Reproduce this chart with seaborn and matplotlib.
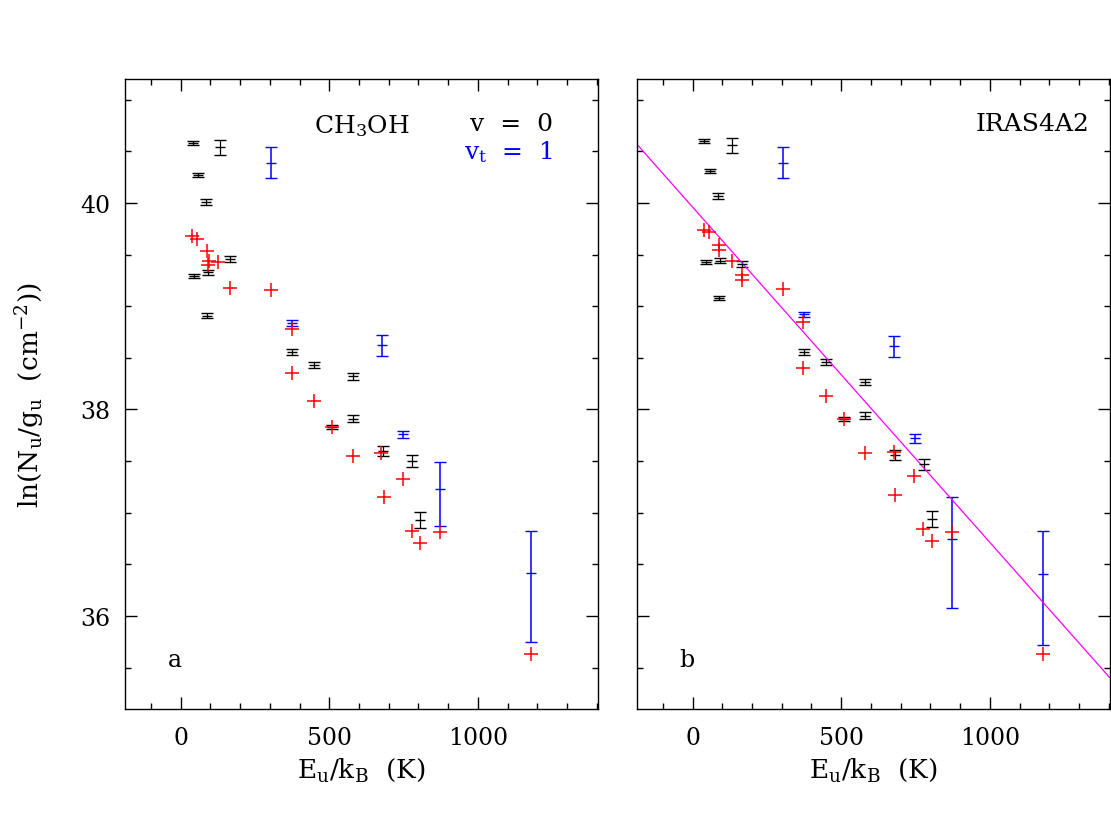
import matplotlib.pyplot as plt
import numpy as np
import pandas as pd
import seaborn as sns
from matplotlib.ticker import MultipleLocator

# v = 0 transitions (black points), upper level energy E_u/k_B in K
eu_v0 = [40, 133, 57, 84, 46, 93, 166, 90, 375, 448, 508, 580, 580, 682, 778, 804]
ln_v0_a = [40.58, 40.54, 40.27, 40.01, 39.29, 39.33, 39.46, 38.91,
           38.56, 38.43, 37.83, 38.32, 37.91, 37.60, 37.50, 36.93]
ln_v0_b = [40.60, 40.56, 40.31, 40.07, 39.43, 39.44, 39.41, 39.08,
           38.56, 38.46, 37.91, 38.27, 37.94, 37.56, 37.47, 36.94]
err_v0 = [0.02, 0.073, 0.02, 0.03, 0.02, 0.025, 0.03, 0.02,
          0.03, 0.03, 0.02, 0.03, 0.035, 0.047, 0.055, 0.076]

# vt = 1 transitions (blue points), asymmetric errors
eu_vt1 = [304, 375, 677, 748, 871, 1178]
ln_vt1_a = [40.39, 38.84, 38.62, 37.76, 37.23, 36.42]
ln_vt1_b = [40.39, 38.92, 38.61, 37.72, 36.75, 36.41]
err_lo_vt1_a = [0.15, 0.03, 0.105, 0.034, 0.36, 0.67]
err_hi_vt1_a = [0.15, 0.03, 0.105, 0.034, 0.26, 0.40]
err_lo_vt1_b = [0.15, 0.025, 0.105, 0.04, 0.67, 0.69]
err_hi_vt1_b = [0.15, 0.025, 0.105, 0.04, 0.40, 0.41]

# model populations (red crosses)
eu_model_a = [38, 55, 89, 94, 91, 127, 166, 305, 376, 376,
              447, 509, 580, 674, 747, 683, 778, 804, 871, 1177]
ln_model_a = [39.68, 39.65, 39.53, 39.44, 39.40, 39.43, 39.18, 39.16, 38.78, 38.35,
              38.08, 37.83, 37.55, 37.58, 37.33, 37.15, 36.82, 36.71, 36.81, 35.63]
eu_model_b = [38, 55, 90, 90, 131, 165, 165, 303, 373, 373,
              448, 508, 581, 676, 746, 682, 776, 804, 871, 1179]
ln_model_b = [39.74, 39.72, 39.59, 39.545, 39.44, 39.30, 39.25, 39.17, 38.85, 38.40,
              38.13, 37.91, 37.58, 37.59, 37.36, 37.17, 36.84, 36.725, 36.81, 35.63]

# rotational diagram fit shown in panel b
t_rot = 308.0
ln_n_over_q = 39.96

sns.set_theme(style='ticks')
plt.rcParams['font.family'] = ['DejaVu Serif']
plt.rcParams['mathtext.fontset'] = 'dejavuserif'
plt.rcParams['axes.linewidth'] = 1.0
plt.rcParams['text.color'] = 'black'
plt.rcParams['axes.labelcolor'] = 'black'
plt.rcParams['xtick.color'] = 'black'
plt.rcParams['ytick.color'] = 'black'
plt.rcParams['axes.edgecolor'] = 'black'

fig = plt.figure(figsize=(11.11, 8.28), dpi=100)
ax_a = fig.add_axes([0.1128, 0.1425, 0.4252, 0.7609])
ax_b = fig.add_axes([0.5736, 0.1425, 0.4252, 0.7609])

panels = [
    (ax_a, ln_v0_a, ln_vt1_a, err_lo_vt1_a, err_hi_vt1_a, eu_model_a, ln_model_a, 'a'),
    (ax_b, ln_v0_b, ln_vt1_b, err_lo_vt1_b, err_hi_vt1_b, eu_model_b, ln_model_b, 'b'),
]

for ax, ln_v0, ln_vt1, lo, hi, eu_mod, ln_mod, tag in panels:
    ax.errorbar(eu_v0, ln_v0, yerr=err_v0, fmt='_', color='black', ms=7, mew=1,
                capsize=4, elinewidth=0.9, capthick=0.9)
    ax.errorbar(eu_vt1, ln_vt1, yerr=[lo, hi], fmt='_', color='blue', ms=7, mew=1,
                capsize=4.5, elinewidth=1.1, capthick=1.1)
    df_mod = pd.DataFrame({'eu': eu_mod, 'ln': ln_mod})
    sns.scatterplot(data=df_mod, x='eu', y='ln', marker='+', color='red',
                    s=90, linewidth=1.1, ax=ax, zorder=5)

    ax.set_xlim(-186, 1403)
    ax.set_ylim(35.1, 41.2)
    ax.set_xticks([0, 500, 1000])
    ax.xaxis.set_minor_locator(MultipleLocator(100))
    ax.yaxis.set_major_locator(MultipleLocator(2))
    ax.yaxis.set_minor_locator(MultipleLocator(0.5))
    ax.tick_params(which='both', direction='in', top=True, right=True,
                   color='black', width=1, labelsize=17)
    ax.tick_params(which='major', length=8.5)
    ax.tick_params(which='minor', length=4.3)
    ax.tick_params(axis='x', pad=12)
    ax.tick_params(axis='y', pad=11)
    ax.set_xlabel(r'E$_{\rm u}$/k$_{\rm B}$  (K)', fontsize=19, labelpad=5)
    ax.set_ylabel('')
    ax.text(0.105, 0.079, tag, transform=ax.transAxes, fontsize=17,
            ha='center', va='center')

ax_a.set_ylabel(r'ln(N$_{\rm u}$/g$_{\rm u}$  (cm$^{-2}$))', fontsize=19, labelpad=24)
ax_b.tick_params(axis='y', labelleft=False)

ax_a.text(0.40, 0.948, r'CH$_3$OH', transform=ax_a.transAxes, fontsize=18,
          ha='left', va='top')
ax_a.text(0.905, 0.948, 'v  =  0', transform=ax_a.transAxes, fontsize=18,
          ha='right', va='top')
ax_a.text(0.905, 0.906, r'v$_{\rm t}$  =  1', transform=ax_a.transAxes, fontsize=18,
          ha='right', va='top', color='blue')
ax_b.text(0.958, 0.948, 'IRAS4A2', transform=ax_b.transAxes, fontsize=18,
          ha='right', va='top')

ax_b.axline((0, ln_n_over_q), slope=-1.0 / t_rot, color='magenta', linewidth=0.9)

fig.savefig('out.png', dpi=100)
